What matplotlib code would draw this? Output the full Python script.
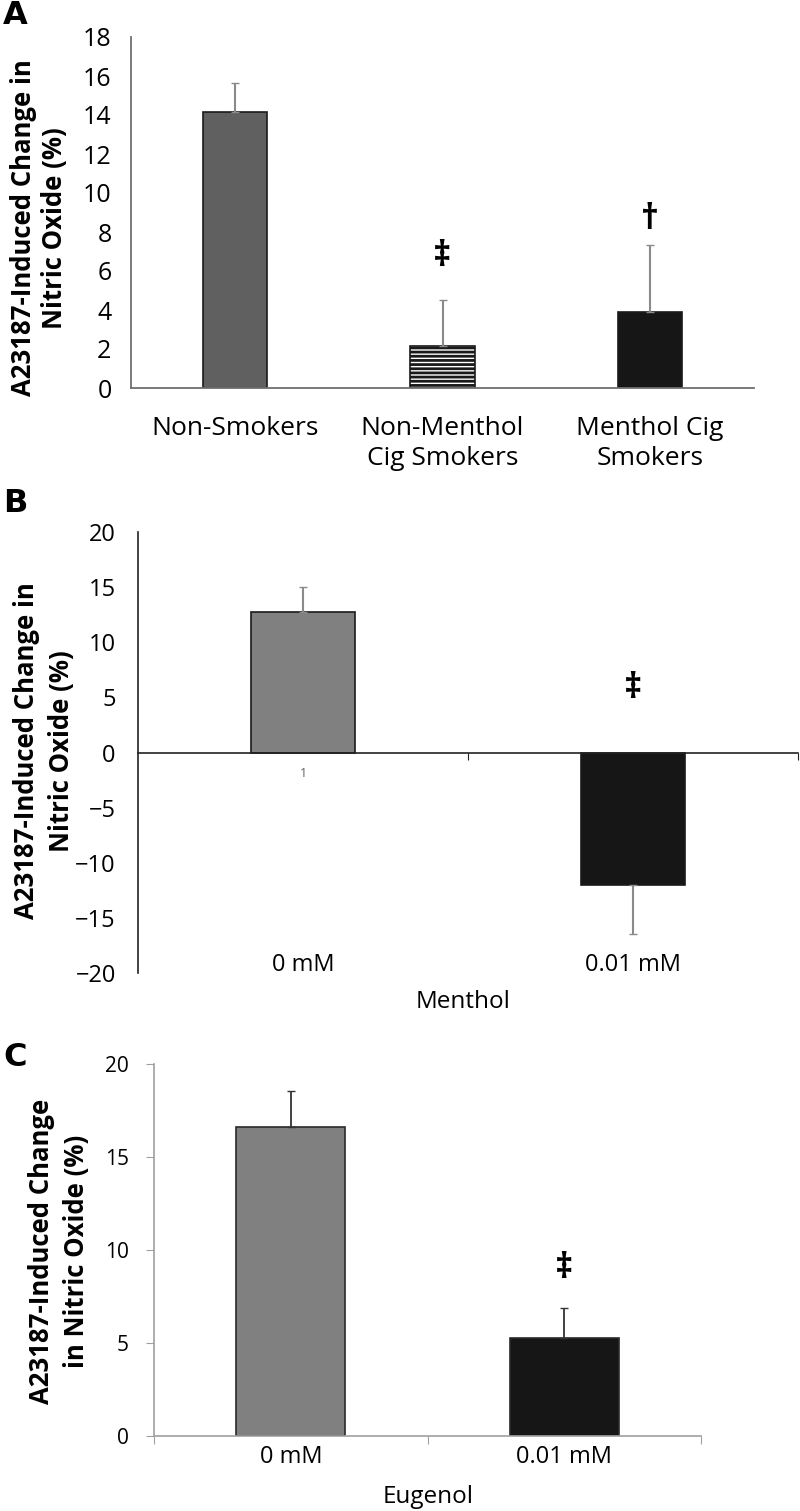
import matplotlib
matplotlib.use("Agg")
import matplotlib.pyplot as plt

plt.rcParams["font.family"] = ["Open Sans", "DejaVu Sans"]
plt.rcParams["hatch.linewidth"] = 2.0

# panel A
groups_a = ["Non-Smokers", "Non-Menthol\nCig Smokers", "Menthol Cig\nSmokers"]
vals_a = [14.15, 2.15, 3.9]
err_a = [1.5, 2.35, 3.43]
marks_a = ["", "‡", "†"]
mark_y_a = [None, 6.7, 8.6]

# panel B
groups_b = ["0 mM", "0.01 mM"]
vals_b = [12.7, -12.05]
err_b = [2.3, 4.45]
mark_y_b = 5.8

# panel C
groups_c = ["0 mM", "0.01 mM"]
vals_c = [16.6, 5.27]
err_c = [1.95, 1.6]
mark_y_c = 9.0

W, H = 800, 1511
fig = plt.figure(figsize=(W / 100, H / 100), dpi=100)


def box(x0, y0, x1, y1):
    return [x0 / W, 1 - y1 / H, (x1 - x0) / W, (y1 - y0) / H]


def px(x, y):
    return x / W, 1 - y / H


ylab = "A23187-Induced Change in\nNitric Oxide (%)"

# ---------- A ----------
ax = fig.add_axes(box(131, 37, 754, 388))
xa = range(len(vals_a))
ax.bar(xa, vals_a, width=0.31, color=["#606060", "white", "#161616"],
       edgecolor="#1a1a1a", linewidth=1.2, hatch=["", "----", ""])
ax.errorbar(xa, vals_a, yerr=[[0] * 3, err_a], fmt="none", ecolor="#8a8a8a",
            elinewidth=1.5, capsize=3)
for i, m in enumerate(marks_a):
    if m:
        ax.text(i, mark_y_a[i], m, ha="center", va="center", fontsize=25,
                fontweight="bold")
ax.set_xlim(-0.5, 2.5)
ax.set_ylim(0, 18)
ax.set_yticks(range(0, 19, 2))
ax.set_xticks(list(xa))
ax.set_xticklabels(groups_a, fontsize=19, linespacing=1.3)
ax.tick_params(axis="x", length=0, pad=20)
ax.tick_params(axis="y", length=0, pad=14, labelsize=18)
for s in ["top", "right"]:
    ax.spines[s].set_visible(False)
for s in ["left", "bottom"]:
    ax.spines[s].set_color("#707070")
    ax.spines[s].set_linewidth(1.3)
fig.text(*px(39, 228), ylab, rotation=90, ha="center", va="center",
         fontsize=18.5, fontweight="bold", linespacing=1.2)
fig.text(*px(3, 15), "A", ha="left", va="center", fontsize=23, fontweight="bold",
         family="DejaVu Sans")

# ---------- B ----------
ax = fig.add_axes(box(138, 532, 798, 973))
xb = range(len(vals_b))
ax.bar(xb, vals_b, width=0.315, color=["#808080", "#161616"],
       edgecolor="#1a1a1a", linewidth=1.2)
ax.errorbar(xb, vals_b, yerr=[[0, err_b[1]], [err_b[0], 0]], fmt="none",
            ecolor="#8a8a8a", elinewidth=1.5, capsize=3)
ax.text(1, mark_y_b, "‡", ha="center", va="center", fontsize=25, fontweight="bold")
ax.set_xlim(-0.5, 1.5)
ax.set_ylim(-20, 20)
ax.set_yticks(range(-20, 21, 5))
ax.set_xticks([0.5, 1.5])
ax.set_xticklabels([])
ax.tick_params(axis="x", length=5, direction="out", color="#222222")
ax.tick_params(axis="y", length=0, pad=16, labelsize=17)
ax.spines["bottom"].set_position(("data", 0))
for s in ["top", "right"]:
    ax.spines[s].set_visible(False)
for s in ["left", "bottom"]:
    ax.spines[s].set_color("#222222")
    ax.spines[s].set_linewidth(1.2)
for i, g in enumerate(groups_b):
    ax.text(i, -19.3, g, ha="center", va="center", fontsize=17)
ax.text(0, -1.9, "1", ha="center", va="center", fontsize=9, color="#666666")
fig.text(*px(463, 1002), "Menthol", ha="center", va="center", fontsize=17.5)
fig.text(*px(44, 751), ylab, rotation=90, ha="center", va="center",
         fontsize=18.5, fontweight="bold", linespacing=1.35)
fig.text(*px(3, 503), "B", ha="left", va="center", fontsize=23, fontweight="bold",
         family="DejaVu Sans")

# ---------- C ----------
ax = fig.add_axes(box(154, 1064, 701, 1436))
xc = range(len(vals_c))
ax.bar(xc, vals_c, width=0.40, color=["#808080", "#161616"],
       edgecolor="#2a2a2a", linewidth=1.2)
ax.errorbar(xc, vals_c, yerr=[[0, 0], err_c], fmt="none", ecolor="#333333",
            elinewidth=1.3, capsize=3)
ax.text(1, mark_y_c, "‡", ha="center", va="center", fontsize=25, fontweight="bold")
ax.set_xlim(-0.5, 1.5)
ax.set_ylim(0, 20)
ax.set_yticks(range(0, 21, 5))
ax.set_xticks([-0.5, 0.5, 1.5])
ax.set_xticklabels([])
ax.tick_params(axis="x", length=6, direction="out", color="#a0a0a0")
ax.tick_params(axis="y", length=6, direction="out", color="#a0a0a0", pad=12,
               labelsize=15)
for s in ["top", "right"]:
    ax.spines[s].set_visible(False)
for s in ["left", "bottom"]:
    ax.spines[s].set_color("#a0a0a0")
    ax.spines[s].set_linewidth(1.2)
for i, g in enumerate(groups_c):
    ax.text(i, -1.15, g, ha="center", va="center", fontsize=17)
fig.text(*px(428, 1497), "Eugenol", ha="center", va="center", fontsize=17.5)
fig.text(*px(59, 1251), "A23187-Induced Change\nin Nitric Oxide (%)", rotation=90,
         ha="center", va="center", fontsize=18.5, fontweight="bold",
         linespacing=1.35)
fig.text(*px(3, 1058), "C", ha="left", va="center", fontsize=23, fontweight="bold",
         family="DejaVu Sans")

fig.savefig("out.png", dpi=100)
